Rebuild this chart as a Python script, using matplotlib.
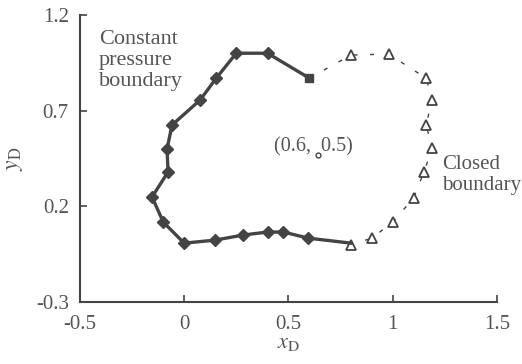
import numpy as np
import matplotlib.pyplot as plt

plt.rcParams['font.family'] = ['Liberation Serif', 'DejaVu Serif']
plt.rcParams['mathtext.fontset'] = 'stix'
plt.rcParams['axes.unicode_minus'] = False

# constant pressure boundary (diamonds)
xc = [0.6, 0.40, 0.25, 0.154, 0.077, -0.058, -0.082, -0.077, -0.154, -0.10,
      0.0, 0.15, 0.28, 0.40, 0.476, 0.596, 0.80]
yc = [0.87, 1.00, 1.00, 0.87, 0.756, 0.625, 0.50, 0.38, 0.249, 0.118,
      0.008, 0.024, 0.05, 0.066, 0.066, 0.034, 0.008]

# closed boundary (triangles)
xt = [0.80, 0.98, 1.16, 1.19, 1.16, 1.19, 1.15, 1.10, 1.0, 0.90, 0.80]
yt = [0.99, 0.996, 0.87, 0.756, 0.625, 0.505, 0.38, 0.243, 0.118, 0.034, 0.0]

# well location
xw, yw = 0.64, 0.47

gray = '#444444'
tcol = '#555555'

fig = plt.figure(figsize=(5.22, 3.64), dpi=100)
ax = fig.add_axes([0.153, 0.170, 0.799, 0.789])

ax.plot([xc[0]] + xt, [yc[0]] + yt, color=gray, lw=1.0, ls=(0, (3, 9)),
        marker='^', ms=7.5, mfc='white', mec=gray, mew=1.3, markevery=list(range(1, len(xt) + 1)))
ax.plot(xc, yc, color=gray, lw=2.4, marker='D', ms=6, mfc=gray, mec=gray, markevery=list(range(1, len(xc) - 1)))
ax.plot(xc[0], yc[0], marker='s', ms=6, color=gray)
ax.plot(xw, yw, marker='o', ms=3.5, mfc='white', mec=gray, mew=1.0)

ax.text(-0.41, 1.12, 'Constant\npressure\nboundary', fontsize=16, color=tcol,
        va='top', ha='left', linespacing=1.12)
ax.text(1.235, 0.47, 'Closed\nboundary', fontsize=15, color=tcol,
        va='top', ha='left', linespacing=1.15)
ax.text(0.43, 0.51, '(0.6,  0.5)', fontsize=14.5, color=tcol, va='center', ha='left')

ax.set_xlim(-0.5, 1.5)
ax.set_ylim(-0.3, 1.2)
ax.set_xticks([-0.5, 0, 0.5, 1, 1.5])
ax.set_xticklabels(['-0.5', '0', '0.5', '1', '1.5'])
ax.set_yticks([-0.3, 0.2, 0.7, 1.2])
ax.set_yticklabels(['-0.3', '0.2', '0.7', '1.2'])
ax.tick_params(direction='in', length=5, width=1.2, colors=gray, labelcolor=tcol,
               labelsize=15)
ax.tick_params(axis='x', pad=9)
ax.tick_params(axis='y', pad=8)
for s in ['top', 'right']:
    ax.spines[s].set_visible(False)
for s in ['left', 'bottom']:
    ax.spines[s].set_color(gray)
    ax.spines[s].set_linewidth(1.5)

ax.set_xlabel(r'$x_{\rm D}$', fontsize=16, color=tcol, labelpad=0)
ax.set_ylabel(r'$y_{\rm D}$', fontsize=17, color=tcol, labelpad=8)

fig.savefig('out.png', dpi=100)
